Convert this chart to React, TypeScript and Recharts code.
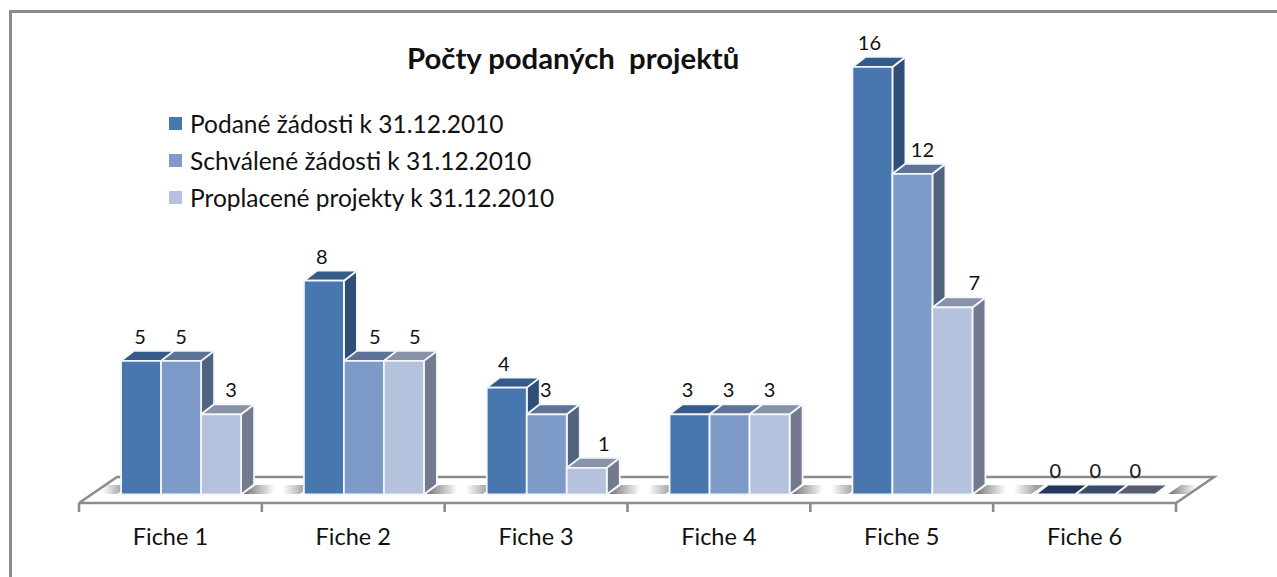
import React from "react";
import { BarChart, Bar, XAxis, YAxis, LabelList, ReferenceArea, Legend } from "recharts";

const categories = ["Fiche 1", "Fiche 2", "Fiche 3", "Fiche 4", "Fiche 5", "Fiche 6"];
const podane = [5, 8, 4, 3, 16, 0];
const schvalene = [5, 5, 3, 3, 12, 0];
const proplacene = [3, 5, 1, 3, 7, 0];
const title = "Počty podaných  projektů";
const seriesNames = ["Podané žádosti k 31.12.2010", "Schválené žádosti k 31.12.2010", "Proplacené projekty k 31.12.2010"];

const data = categories.map((name, i) => ({ name, podane: podane[i], schvalene: schvalene[i], proplacene: proplacene[i] }));

const FONT = "Lato, Carlito, sans-serif";
const SHIFT_X = 11;
const SHIFT_Y = -8.5;
const DX = 13;
const DY = -10;

const skins = [
  { front: "#4877b0", top: "#345b8a", side: "#2f4e78", flat: "#23395b" },
  { front: "#7e9ac8", top: "#5d7498", side: "#506480", flat: "#3a4c68" },
  { front: "#b5c2de", top: "#8892a9", side: "#737a8e", flat: "#545e70" },
];
const nudges = [
  [-1, -2, -3, -2, -3, 0],
  [0, 11, -1, -1, 10, 0],
  [10, 11, 17, 0, 22, 0],
];

const Box3D = (skin: any) => (p: any) => {
  const x = p.x + SHIFT_X;
  const w = p.width;
  const y = p.y + SHIFT_Y;
  const h = p.height;
  const stroke = "#f4f6fa";
  const sw = 1.8;
  const topPts = `${x},${y} ${x + DX},${y + DY} ${x + w + DX},${y + DY} ${x + w},${y}`;
  if (h < 1) {
    return <polygon points={topPts} fill={skin.flat} stroke={stroke} strokeWidth={sw} />;
  }
  return (
    <g stroke={stroke} strokeWidth={sw} strokeLinejoin="round">
      <polygon points={`${x + w},${y} ${x + w + DX},${y + DY} ${x + w + DX},${y + h + DY} ${x + w},${y + h}`} fill={skin.side} />
      <polygon points={topPts} fill={skin.top} />
      <rect x={x} y={y} width={w} height={h} fill={skin.front} />
    </g>
  );
};

const valueLabel = (series: number) => (p: any) => (
  <text
    x={p.x + p.width / 2 + SHIFT_X + nudges[series][p.index]}
    y={p.y + SHIFT_Y - 17}
    textAnchor="middle"
    fontFamily={FONT}
    fontSize={20}
    fill="#111"
  >
    {p.value}
  </text>
);

const Floor = (p: any) => {
  const { x, y, width, height } = p;
  const bottom = y + height;
  const n = categories.length;
  const step = width / n;
  const skew = 38;
  const bandTop = bottom - 18;
  const bandBottom = bottom - 9;
  const band = (x0: number, x1: number, fill: string, key: any) => (
    <polygon key={key} points={`${x0},${bandBottom} ${x0 + 13},${bandTop} ${x1 + 13},${bandTop} ${x1},${bandBottom}`} fill={fill} />
  );
  return (
    <g>
      <defs>
        <linearGradient id="shDown" x1="0" x2="1" y1="0" y2="0">
          <stop offset="0.1" stopColor="#808080" />
          <stop offset="0.8" stopColor="#fff" />
        </linearGradient>
        <linearGradient id="shUp" x1="0" x2="1" y1="0" y2="0">
          <stop offset="0.25" stopColor="#fff" />
          <stop offset="0.8" stopColor="#a0a0a0" />
        </linearGradient>
      </defs>
      {band(x + 14, x + 38, "url(#shUp)", "first")}
      {categories.map((_, i) => {
        const c = x + step * (i + 1);
        return (
          <g key={i}>
            {i < n - 1 && band(c - 19, c + 8, "url(#shDown)", "a")}
            {i < n - 1 && band(c + 11, c + 38, "url(#shUp)", "b")}
          </g>
        );
      })}
      {band(x + width - 8, x + width + 14, "url(#shDown)", "last")}
      <path
        d={`M${x},${bottom} L${x + skew},${bottom - 26} L${x + width + skew},${bottom - 26} L${x + width},${bottom}`}
        fill="none"
        stroke="#8c8c8c"
        strokeWidth={2.6}
      />
      {Array.from({ length: n + 1 }, (_, i) => (
        <line key={i} x1={x + step * i} x2={x + step * i} y1={bottom} y2={bottom + 9} stroke="#8c8c8c" strokeWidth={2.6} />
      ))}
    </g>
  );
};

const LegendBox = () => (
  <div style={{ fontFamily: FONT, fontSize: 24.5, color: "#111" }}>
    {seriesNames.map((s, i) => (
      <div key={s} style={{ display: "flex", alignItems: "center", height: 37 }}>
        <span style={{ width: 13, height: 13, background: skins[i].front, marginRight: 8, display: "inline-block" }} />
        <span style={{ whiteSpace: "nowrap" }}>{s}</span>
      </div>
    ))}
  </div>
);

export default function App() {
  return (
    <div style={{ position: "absolute", left: 0, top: 0, width: 1277, height: 577, background: "#fff", overflow: "hidden" }}>
      <div style={{ position: "absolute", left: 9, top: 10, right: 0, bottom: 0, borderLeft: "3px solid #8c8c8c", borderTop: "3px solid #8c8c8c" }} />
      <div style={{ position: "absolute", left: 407, top: 40, fontFamily: FONT, fontWeight: 700, fontSize: 29.3, color: "#111", whiteSpace: "pre" }}>{title}</div>
      <BarChart
        width={1277}
        height={577}
        data={data}
        margin={{ left: 79, right: 101, top: 22, bottom: 14 }}
        barCategoryGap="17%"
        barGap={0}
        style={{ position: "absolute", left: 0, top: 0 }}
      >
        <YAxis hide domain={[0, 18]} />
        <XAxis
          dataKey="name"
          height={60}
          axisLine={{ stroke: "#8c8c8c", strokeWidth: 2.6 }}
          tickLine={false}
          tickSize={8}
          interval={0}
          tick={{ fontFamily: FONT, fontSize: 23.5, fill: "#111", dy: 15 }}
        />
        <ReferenceArea y1={0} y2={1} shape={Floor} ifOverflow="visible" />
        <Legend
          layout="horizontal"
          align="center"
          verticalAlign="middle"
          wrapperStyle={{ left: 169, top: 105, width: 420, height: 111 }}
          content={<LegendBox />}
        />
        <Bar dataKey="podane" name={seriesNames[0]} shape={Box3D(skins[0])} isAnimationActive={false}>
          <LabelList dataKey="podane" content={valueLabel(0)} />
        </Bar>
        <Bar dataKey="schvalene" name={seriesNames[1]} shape={Box3D(skins[1])} isAnimationActive={false}>
          <LabelList dataKey="schvalene" content={valueLabel(1)} />
        </Bar>
        <Bar dataKey="proplacene" name={seriesNames[2]} shape={Box3D(skins[2])} isAnimationActive={false}>
          <LabelList dataKey="proplacene" content={valueLabel(2)} />
        </Bar>
      </BarChart>
    </div>
  );
}
